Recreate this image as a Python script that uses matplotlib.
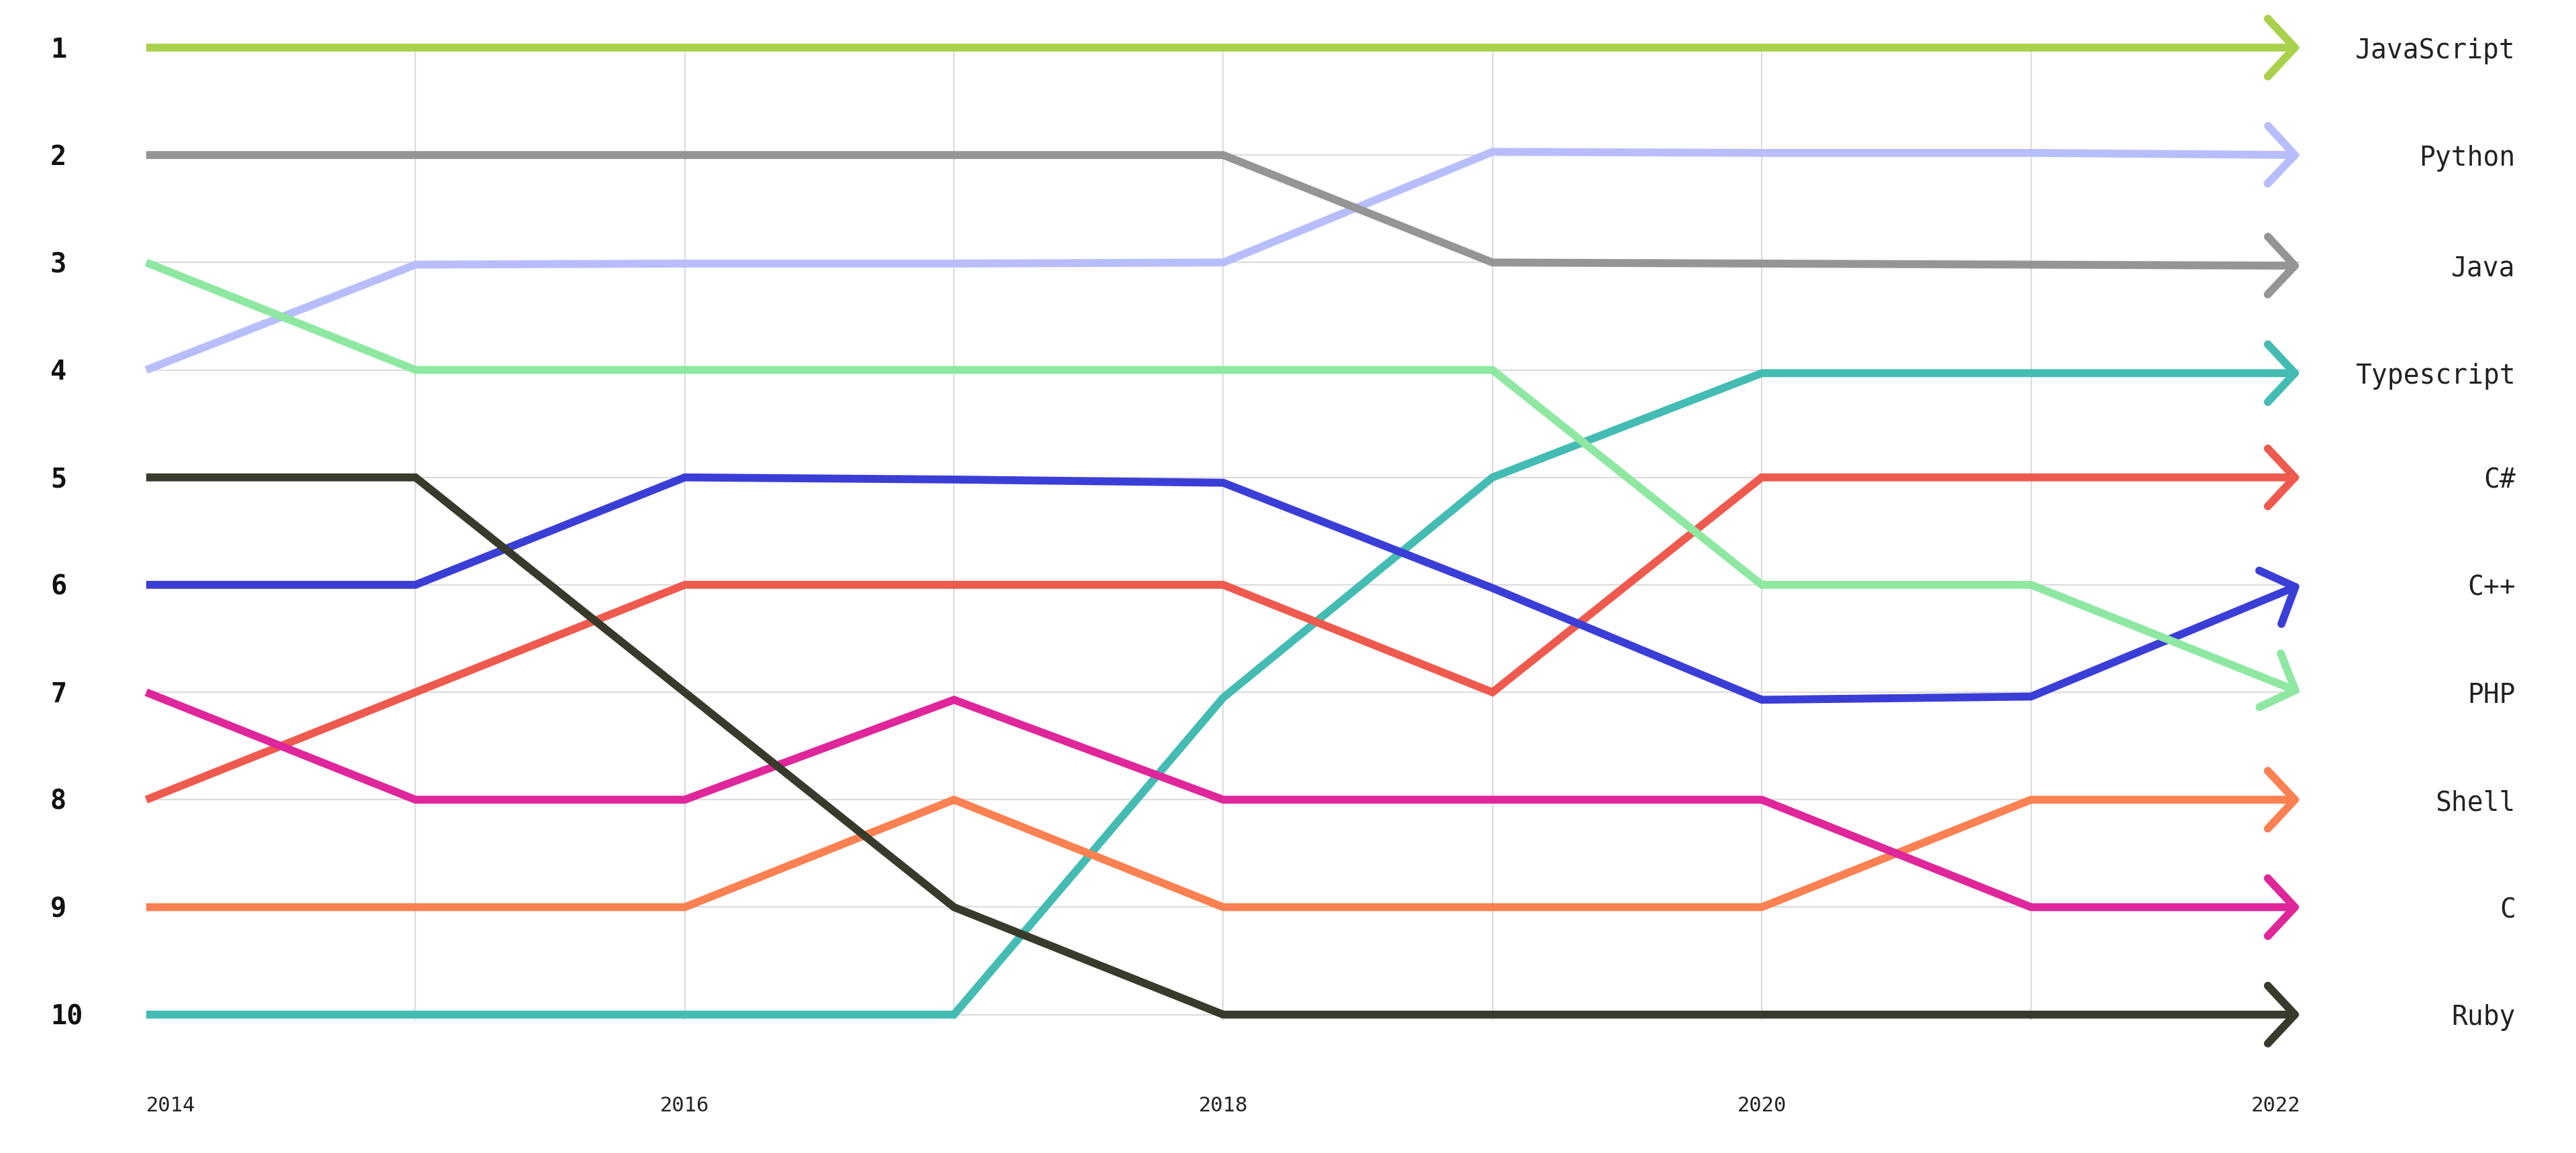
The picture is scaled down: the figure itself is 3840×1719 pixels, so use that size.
import matplotlib
matplotlib.use('Agg')
import matplotlib.pyplot as plt

#Bump chart of language ranks, 2014-2022
years = [2014, 2015, 2016, 2017, 2018, 2019, 2020, 2021, 2022]
year_labels = ['2014', '2016', '2018', '2020', '2022']
rank_labels = ['1', '2', '3', '4', '5', '6', '7', '8', '9', '10']

languages = ['JavaScript', 'Python', 'Java', 'Typescript', 'C#',
             'C++', 'PHP', 'Shell', 'C', 'Ruby']

javascript = [1, 1, 1, 1, 1, 1, 1, 1, 1]
python = [4, 3.02, 3.01, 3.01, 3.0, 1.97, 1.98, 1.98, 2.0]
java = [2, 2, 2, 2, 2, 3.0, 3.01, 3.02, 3.03]
typescript = [10, 10, 10, 10, 7.05, 5.0, 4.03, 4.03, 4.03]
csharp = [8, 7, 6, 6, 6, 7, 5, 5, 5]
cpp = [6, 6, 5, 5.02, 5.05, 6.03, 7.07, 7.04, 6]
php = [3, 4, 4, 4, 4, 4, 6, 6, 7]
shell = [9, 9, 9, 8, 9, 9, 9, 8, 8]
c_lang = [7, 8, 8, 7.07, 8, 8, 8, 9, 9]
ruby = [5, 5, 7, 9, 10, 10, 10, 10, 10]

series = [javascript, python, java, typescript, csharp,
          cpp, php, shell, c_lang, ruby]
colors = ['#aad14c', '#b7befb', '#959595', '#44bcb4', '#ef5a4e',
          '#3b3ed6', '#8ee8a2', '#fb8152', '#df269b', '#383a2b']

mono = 'DejaVu Sans Mono'

fig = plt.figure(figsize=(38.4, 17.19), dpi=100)
ax = fig.add_axes([0, 0, 1, 1])
ax.set_xlim(2013.457, 2023.024)
ax.set_ylim(11.288, 0.557)
ax.axis('off')

#Grid: horizontal per rank, vertical per inner year
ranks = list(range(1, 11))
ax.hlines(ranks, years[0], years[-1], color='#dcdcdc', lw=1.6, zorder=0)
ax.vlines(years[1:-1], 1, 10.05, color='#dcdcdc', lw=1.6, zorder=0)

lw = 8.5
for vals, col in zip(series, colors):
    ax.plot(years[:-1], vals[:-1], color=col, lw=lw,
            solid_capstyle='butt', solid_joinstyle='miter', zorder=2)
    #Last segment drawn as an open arrow
    ax.annotate('', xy=(years[-1], vals[-1]), xytext=(years[-2], vals[-2]),
                arrowprops=dict(arrowstyle='->,head_length=1.45,head_width=1.55',
                                color=col, lw=lw, shrinkA=0, shrinkB=0,
                                mutation_scale=20, capstyle='round',
                                joinstyle='round'),
                zorder=3)

#Language labels at right
for name, vals in zip(languages, series):
    ax.text(0.9765, vals[-1] + 0.03, name, transform=ax.get_yaxis_transform(),
            ha='right', va='center', fontsize=28.5, family=mono, color='#222222')

#Rank labels at left
for r, lab in zip(ranks, rank_labels):
    ax.text(0.0195, r + 0.02, lab, transform=ax.get_yaxis_transform(),
            ha='left', va='center', fontsize=29, family=mono,
            fontweight='bold', color='#111111')

#Year labels at bottom (x in data, y in axes fraction from bottom)
for i, lab in enumerate(year_labels):
    yr = int(lab)
    ha = 'center'
    if i == 0:
        ha = 'left'
    elif i == len(year_labels) - 1:
        ha = 'right'
    ax.text(yr, 0.0413, lab, transform=ax.get_xaxis_transform(),
            ha=ha, va='center', fontsize=22, family=mono, color='#222222')

fig.savefig('out.png', dpi=100, facecolor='white')
